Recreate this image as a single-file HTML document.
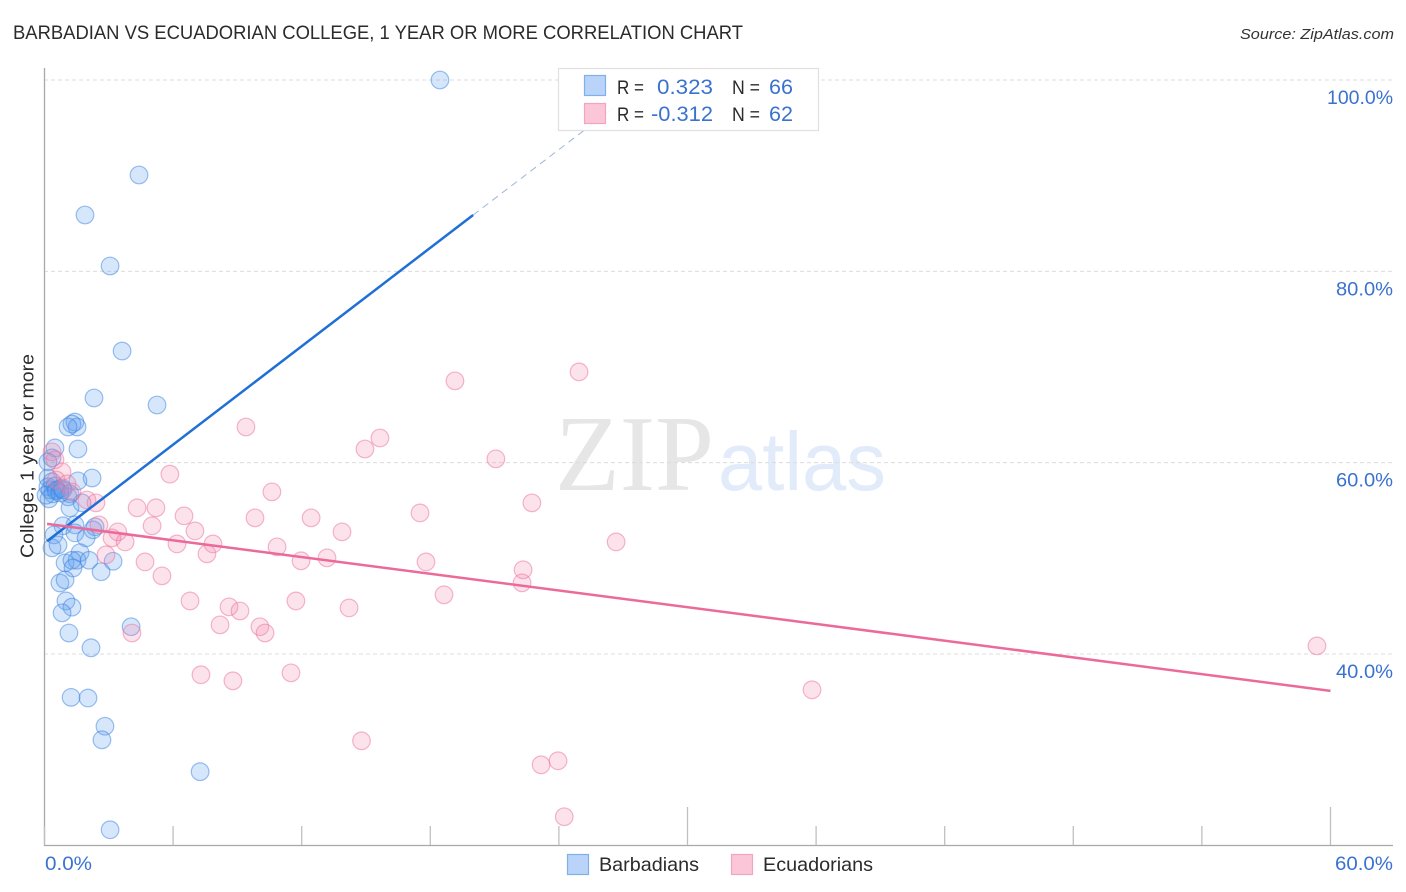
<!DOCTYPE html>
<html>
<head>
<meta charset="utf-8">
<title>Barbadian vs Ecuadorian College Correlation Chart</title>
<style>
html,body{margin:0;padding:0;background:#fff;width:1406px;height:892px;overflow:hidden}
svg{display:block}
text{font-family:"Liberation Sans",sans-serif}
</style>
</head>
<body>
<svg id="chart" width="1406" height="892" viewBox="0 0 1406 892" xmlns="http://www.w3.org/2000/svg">
  <text x="13" y="39" font-size="19" fill="#2b2b2b" textLength="730" lengthAdjust="spacingAndGlyphs">BARBADIAN VS ECUADORIAN COLLEGE, 1 YEAR OR MORE CORRELATION CHART</text>
  <text x="1394" y="39" font-size="15" font-style="italic" fill="#333" text-anchor="end" textLength="154" lengthAdjust="spacingAndGlyphs">Source: ZipAtlas.com</text>
  <g>
    <text x="555" y="490" font-size="108" fill="#e6e6e6" textLength="159" lengthAdjust="spacingAndGlyphs" style="font-family:'Liberation Serif',serif">ZIP</text>
    <text x="718" y="490" font-size="83" fill="#e2ebf9" textLength="168" lengthAdjust="spacingAndGlyphs">atlas</text>
  </g>
  <g id="grid"></g>
  <g id="axes"></g>
  <g id="pts-blue"></g>
  <g id="pts-pink"></g>
  <g id="trends"></g>
  <text transform="translate(33.5,558) rotate(-90)" font-size="18.5" fill="#2b2b2b" textLength="204" lengthAdjust="spacingAndGlyphs">College, 1 year or more</text>
  <g>
    <rect x="558.5" y="68.5" width="260" height="62" fill="#fff" fill-opacity="0.9" stroke="#e0e0e0" stroke-width="1.2"/>
    <rect x="584.5" y="75.5" width="21" height="20" fill="#b9d4f8" stroke="#7fb0ec" stroke-width="1.2"/>
    <rect x="584.5" y="103.5" width="21" height="20" fill="#fcc6d9" stroke="#f2a5bf" stroke-width="1.2"/>
    <text x="617" y="94" font-size="19.5" fill="#2b2b2b" textLength="27" lengthAdjust="spacingAndGlyphs">R =</text>
    <text x="713" y="94" font-size="21" fill="#3a72cf" text-anchor="end" textLength="56" lengthAdjust="spacingAndGlyphs">0.323</text>
    <text x="732" y="94" font-size="19.5" fill="#2b2b2b" textLength="28" lengthAdjust="spacingAndGlyphs">N =</text>
    <text x="793" y="94" font-size="21" fill="#3a72cf" text-anchor="end" textLength="24" lengthAdjust="spacingAndGlyphs">66</text>
    <text x="617" y="121" font-size="19.5" fill="#2b2b2b" textLength="27" lengthAdjust="spacingAndGlyphs">R =</text>
    <text x="713" y="121" font-size="21" fill="#3a72cf" text-anchor="end" textLength="62" lengthAdjust="spacingAndGlyphs">-0.312</text>
    <text x="732" y="121" font-size="19.5" fill="#2b2b2b" textLength="28" lengthAdjust="spacingAndGlyphs">N =</text>
    <text x="793" y="121" font-size="21" fill="#3a72cf" text-anchor="end" textLength="24" lengthAdjust="spacingAndGlyphs">62</text>
  </g>
  <g>
    <rect x="567.5" y="854.5" width="21" height="20" fill="#b9d4f8" stroke="#7fb0ec" stroke-width="1.2"/>
    <text x="599" y="871" font-size="19.5" fill="#2b2b2b" textLength="100" lengthAdjust="spacingAndGlyphs">Barbadians</text>
    <rect x="731.5" y="854.5" width="21" height="20" fill="#fcc6d9" stroke="#f2a5bf" stroke-width="1.2"/>
    <text x="763" y="871" font-size="19.5" fill="#2b2b2b" textLength="110" lengthAdjust="spacingAndGlyphs">Ecuadorians</text>
  </g>
</svg>
<script>
const barbadianX = [18.45,4.41,1.89,3.06,3.62,2.31,5.25,1.42,1.28,1.52,1.10,0.49,1.56,0.35,0.16,2.22,1.56,0.16,0.35,0.16,0.26,0.49,0.58,0.72,0.40,0.82,1.19,1.10,0.21,1.75,1.19,0.86,1.42,2.36,2.26,0.44,1.42,1.94,0.35,0.63,1.66,0.96,1.52,1.28,2.08,3.20,1.33,2.64,0.72,0.96,1.00,1.28,0.82,4.04,1.14,2.17,1.24,2.03,2.82,2.68,7.26,3.06,0.07,0.54,0.72,0.86];
const barbadianY = [100,90.07,85.89,80.56,71.67,66.76,66.03,64.25,64.04,63.73,63.73,61.54,61.43,60.5,60.08,58.4,58.1,58.4,58.0,57.47,57.16,57.57,57.16,57.26,56.74,57.37,56.74,56.43,56.22,55.8,55.28,53.4,53.5,53.3,52.98,52.45,52.66,52.14,51.1,51.4,50.6,49.53,49.8,49.8,49.8,49.7,49.0,48.6,47.43,47.75,45.55,44.9,44.3,42.85,42.2,40.65,35.47,35.4,32.45,31.03,27.7,21.63,56.6,57.05,56.84,57.16];
const ecuadorianX = [19.15,24.94,9.4,15.65,14.95,21.06,5.85,10.61,22.74,17.52,4.32,5.2,6.51,9.82,12.44,5.02,7.02,13.88,3.42,3.15,3.76,6.18,7.86,10.85,26.67,7.58,2.87,13.18,11.97,4.69,17.8,22.33,5.48,22.28,18.64,6.79,11.73,8.61,9.12,14.21,8.19,10.05,10.29,4.08,59.37,7.3,11.5,8.79,35.81,14.79,23.96,23.17,24.25,0.35,0.49,0.82,0.54,1.05,1.28,1.98,2.4,2.54];
const ecuadorianY = [68.55,69.49,63.73,62.58,61.43,60.4,58.8,56.95,55.8,54.75,55.28,55.28,54.44,54.23,54.23,53.4,52.87,52.77,52.77,52.14,51.72,51.51,51.51,51.2,51.72,50.47,50.37,50.05,49.74,49.63,49.63,48.8,48.17,47.44,46.19,45.55,45.55,44.93,44.5,44.82,43.05,42.85,42.2,42.2,40.85,37.83,38.03,37.2,36.26,30.93,28.84,28.42,22.99,61.13,60.3,59.04,58.2,57.8,56.95,56.1,55.8,53.5];
const yTickValues = [100,80,60,40];
const yTickLabels = ["100.0%","80.0%","60.0%","40.0%"];
const xTickValues = [0,6,12,18,24,30,36,42,48,54,60];
const xEndValues = [0,60];
const xEndLabels = ["0.0%","60.0%"];
const blueTrendX = [0.12,20];
const blueTrendY = [51.8,85.89];
const blueDashX = [20,26.5];
const blueDashY = [85.89,97];
const pinkTrendX = [0.12,60];
const pinkTrendY = [53.6,36.15];

const NS = "http://www.w3.org/2000/svg";
const sx = v => 44.5 + v * 21.433;
const sy = v => 80 + (100 - v) * 9.567;
function mk(parent, tag, attrs) {
  const el = document.createElementNS(NS, tag);
  for (const k in attrs) el.setAttribute(k, attrs[k]);
  parent.appendChild(el);
  return el;
}
const gridG = document.getElementById("grid");
const axesG = document.getElementById("axes");
yTickValues.forEach((v, i) => {
  const ln = mk(gridG, "line", {x1: 44, x2: 1393, y1: sy(v), y2: sy(v), stroke: "#dcdcdc", "stroke-width": 1, "stroke-dasharray": "4 3"});
  
  
  const t = mk(axesG, "text", {x: 1393, y: sy(v) + 24, "font-size": 19.5, fill: "#3a72cf", "text-anchor": "end", textLength: i === 0 ? 66 : 57, lengthAdjust: "spacingAndGlyphs"});
  t.textContent = yTickLabels[i];
  
  
});
const yAxis = mk(axesG, "line", {x1: 44.5, x2: 44.5, y1: 68, y2: 845.5, stroke: "#a8a8a8", "stroke-width": 1.3});


const xAxis = mk(axesG, "line", {x1: 44, x2: 1393, y1: 845.5, y2: 845.5, stroke: "#a8a8a8", "stroke-width": 1.3});


xTickValues.forEach(v => {
  const major = v === 30 || v === 60;
  const tk = mk(axesG, "line", {x1: sx(v), x2: sx(v), y1: major ? 807 : 826, y2: 845, stroke: "#c0c0c0", "stroke-width": 1.3});
  
  
});
xEndValues.forEach((v, i) => {
  const t = mk(axesG, "text", {x: i === 0 ? 45 : 1393, y: 870, "font-size": 19.5, fill: "#3a72cf", "text-anchor": i === 0 ? "start" : "end", textLength: i === 0 ? 47 : 58, lengthAdjust: "spacingAndGlyphs"});
  t.textContent = xEndLabels[i];
  
  
});
const blueG = document.getElementById("pts-blue");
barbadianX.forEach((x, i) => {
  const c = mk(blueG, "circle", {cx: sx(x), cy: sy(barbadianY[i]), r: 8.8, fill: "#5f9ff0", "fill-opacity": 0.25, stroke: "#3a82e0", "stroke-opacity": 0.5, "stroke-width": 1.2});
  
  
});
const pinkG = document.getElementById("pts-pink");
ecuadorianX.forEach((x, i) => {
  const c = mk(pinkG, "circle", {cx: sx(x), cy: sy(ecuadorianY[i]), r: 8.8, fill: "#f48cb0", "fill-opacity": 0.25, stroke: "#ec6f9c", "stroke-opacity": 0.5, "stroke-width": 1.2});
  
  
});
const trendG = document.getElementById("trends");
const dash = mk(trendG, "line", {x1: sx(blueDashX[0]), y1: sy(blueDashY[0]), x2: sx(blueDashX[1]), y2: sy(blueDashY[1]), stroke: "#9fb4dc", "stroke-width": 1, "stroke-dasharray": "7 5"});


const blueLine = mk(trendG, "line", {x1: sx(blueTrendX[0]), y1: sy(blueTrendY[0]), x2: sx(blueTrendX[1]), y2: sy(blueTrendY[1]), stroke: "#1f6fd6", "stroke-width": 2.5});


const pinkLine = mk(trendG, "line", {x1: sx(pinkTrendX[0]), y1: sy(pinkTrendY[0]), x2: sx(pinkTrendX[1]), y2: sy(pinkTrendY[1]), stroke: "#ec6a9a", "stroke-width": 2.5});


</script>
</body>
</html>
